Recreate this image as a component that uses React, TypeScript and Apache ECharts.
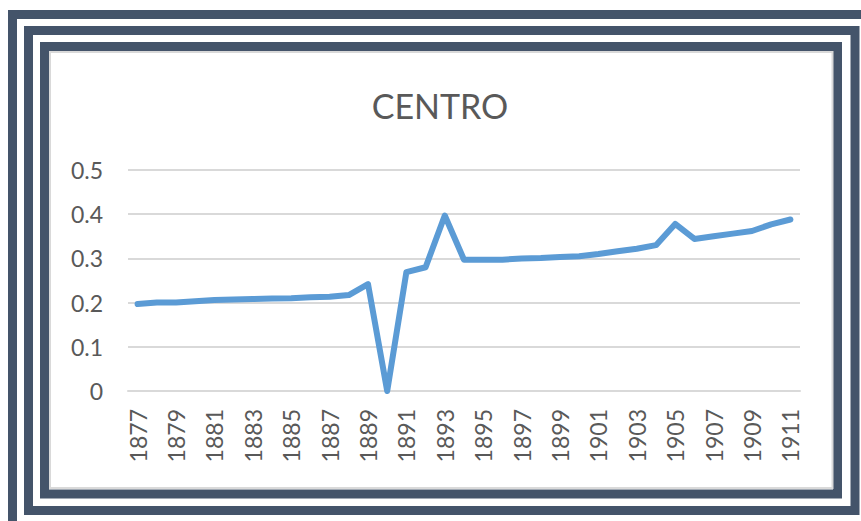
import React, { useEffect, useRef } from "react";
import * as echarts from "echarts";

const years: string[] = [
  "1877", "1878", "1879", "1880", "1881", "1882", "1883", "1884", "1885", "1886",
  "1887", "1888", "1889", "1890", "1891", "1892", "1893", "1894", "1895", "1896",
  "1897", "1898", "1899", "1900", "1901", "1902", "1903", "1904", "1905", "1906",
  "1907", "1908", "1909", "1910", "1911",
];

const centro: number[] = [
  0.197, 0.2, 0.2, 0.203, 0.206, 0.207, 0.208, 0.209, 0.21, 0.212,
  0.213, 0.217, 0.242, 0.0, 0.269, 0.28, 0.397, 0.297, 0.297, 0.297,
  0.3, 0.301, 0.303, 0.305, 0.31, 0.316, 0.322, 0.33, 0.378, 0.344,
  0.35, 0.356, 0.362, 0.377, 0.388,
];

const titleText = "CENTRO";

export default function App() {
  const ref = useRef<HTMLDivElement>(null);
  useEffect(() => {
    if (!ref.current) return;
    const chart = echarts.init(ref.current, null, { renderer: "svg" });
    const frame = "#44546A";
    chart.setOption({
      animation: false,
      backgroundColor: "#ffffff",
      textStyle: { fontFamily: "Lato" },
      grid: { left: 128, right: 61, top: 170, bottom: 130, containLabel: false },
      graphic: [
        { type: "rect", shape: { x: 12.5, y: 14.5, width: 900, height: 600 }, style: { fill: "none", stroke: frame, lineWidth: 9 }, silent: true },
        { type: "rect", shape: { x: 28.5, y: 30.5, width: 826.5, height: 480 }, style: { fill: "none", stroke: frame, lineWidth: 9 }, silent: true },
        { type: "rect", shape: { x: 44.5, y: 46.5, width: 793, height: 447.5 }, style: { fill: "none", stroke: frame, lineWidth: 9 }, silent: true },
        { type: "rect", shape: { x: 50, y: 52, width: 782.5, height: 436 }, style: { fill: "none", stroke: "#D9D9D9", lineWidth: 2 }, silent: true },
        {
          type: "text",
          x: 440,
          y: 105,
          style: {
            text: titleText,
            fill: "#595959",
            font: "34px Lato",
            textAlign: "center",
            textVerticalAlign: "middle",
          },
        },
      ],
      xAxis: {
        type: "category",
        data: years,
        boundaryGap: true,
        axisLine: { show: true, lineStyle: { color: "#D9D9D9", width: 2 } },
        axisTick: { show: false },
        axisLabel: {
          interval: 1,
          rotate: 90,
          margin: 18,
          color: "#595959",
          fontSize: 23,
          fontFamily: "Lato",
        },
      },
      yAxis: {
        type: "value",
        min: 0,
        max: 0.5,
        interval: 0.1,
        axisLine: { show: false },
        axisTick: { show: false },
        splitLine: { lineStyle: { color: "#D9D9D9", width: 2 } },
        axisLabel: {
          margin: 25,
          color: "#595959",
          fontSize: 23,
          fontFamily: "Lato",
        },
      },
      series: [
        {
          type: "line",
          data: centro,
          symbol: "none",
          lineStyle: { color: "#5B9BD5", width: 6, join: "round", cap: "round" },
        },
      ],
    });
    return () => chart.dispose();
  }, []);
  return <div ref={ref} style={{ width: 861, height: 521, position: "absolute", left: 0, top: 0 }} />;
}
